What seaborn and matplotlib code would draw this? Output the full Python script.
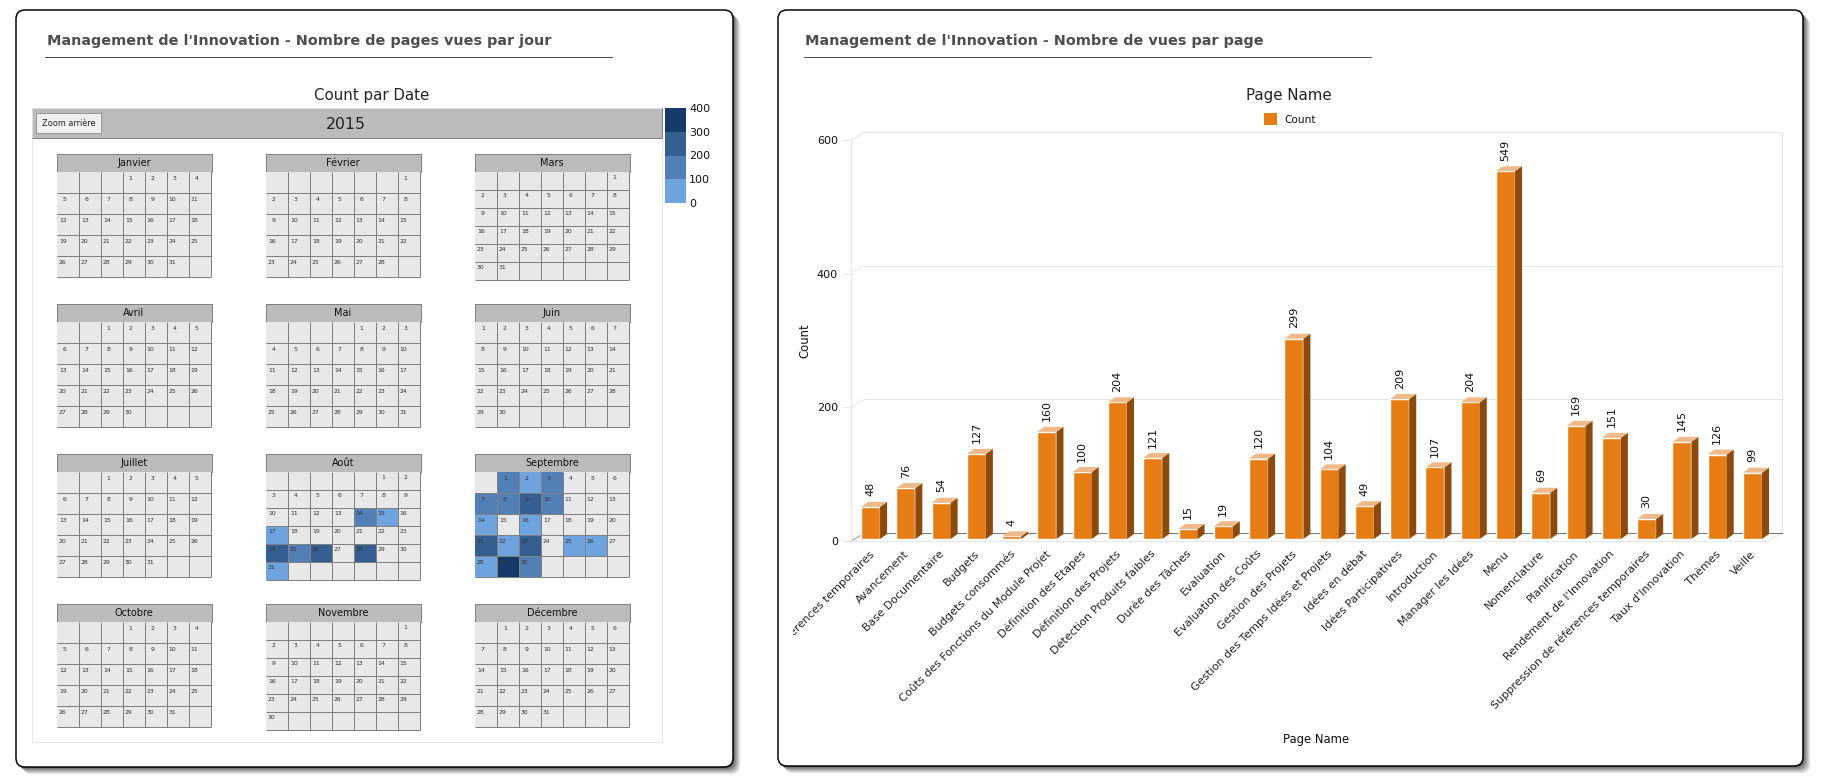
import matplotlib
matplotlib.use("Agg")
import matplotlib.pyplot as plt
import matplotlib.transforms as mtrans
from matplotlib.colors import BoundaryNorm, ListedColormap
from matplotlib.patches import FancyBboxPatch, Patch, Rectangle
import numpy as np
import pandas as pd
import seaborn as sns

W, H = 1822, 784

# page views per page
page_names = ["Ajout de références temporaires", "Avancement", "Base Documentaire", "Budgets",
              "Budgets consommés", "Coûts des Fonctions du Module Projet", "Définition des Etapes",
              "Définition des Projets", "Détection Produits faibles", "Durée des Tâches", "Evaluation",
              "Evaluation des Coûts", "Gestion des Projets", "Gestion des Temps Idées et Projets",
              "Idées en débat", "Idées Participatives", "Introduction", "Manager les Idées", "Menu",
              "Nomenclature", "Planification", "Rendement de l'Innovation",
              "Suppression de références temporaires", "Taux d'Innovation", "Thèmes", "Veille"]
page_counts = [48, 76, 54, 127, 4, 160, 100, 204, 121, 15, 19, 120, 299, 104, 49, 209, 107, 204, 549,
               69, 169, 151, 30, 145, 126, 99]

# calendar, weeks start on monday
month_names = ["Janvier", "Février", "Mars", "Avril", "Mai", "Juin", "Juillet", "Août", "Septembre",
               "Octobre", "Novembre", "Décembre"]
month_offsets = [3, 6, 6, 2, 4, 0, 2, 5, 1, 3, 6, 1]
month_lengths = [31, 28, 31, 30, 31, 30, 31, 31, 30, 31, 30, 31]

# only the colour bin can be read, so these are mid-bin estimates
aout_days = [14, 15, 17, 24, 25, 26, 28, 31]
aout_counts = [150, 60, 60, 250, 150, 250, 250, 60]
sept_days = [1, 2, 3, 7, 8, 9, 10, 14, 16, 21, 22, 23, 25, 26, 28, 29, 30]
sept_counts = [150, 60, 150, 150, 150, 250, 150, 60, 60, 250, 60, 250, 60, 60, 60, 350, 150]
day_counts = {7: dict(zip(aout_days, aout_counts)), 8: dict(zip(sept_days, sept_counts))}

bin_colors = ["#e8e8e8", "#6fa3de", "#5280b6", "#365f91", "#163b6b"]
bin_edges = [-100, 0, 100, 200, 300, 400]
scale_labels = ["400", "300", "200", "100", "0"]

ORANGE, ORANGE_SIDE, ORANGE_TOP = "#e57c14", "#8c4a0c", "#f0b98a"
GRID = "#e6e6e6"
PX = 0.72  # one pixel in points at dpi 100

sns.set_theme(style="white")
plt.rcParams["font.family"] = "DejaVu Sans"

fig = plt.figure(figsize=(W / 100, H / 100), dpi=100, facecolor="white")


def px_axes(x0, y0, x1, y1, **kw):
    return fig.add_axes([x0 / W, 1 - y1 / H, (x1 - x0) / W, (y1 - y0) / H], **kw)


# page furniture is laid out in pixels
bg = px_axes(0, 0, W, H, zorder=0)
bg.set_xlim(0, W)
bg.set_ylim(H, 0)
bg.axis("off")


def panel(x0, y0, x1, y1):
    for i in range(8, 0, -1):
        g = 0.3 + 0.085 * i
        bg.add_patch(FancyBboxPatch((x0 + i, y0 + i), x1 - x0, y1 - y0, boxstyle="round,pad=0,rounding_size=9",
                                    fc=(g, g, g), ec="none"))
    bg.add_patch(FancyBboxPatch((x0, y0), x1 - x0, y1 - y0, boxstyle="round,pad=0,rounding_size=9",
                                fc="white", ec="black", lw=1.5 * PX))


panel(16, 10, 733, 767)
panel(778, 10, 1803, 766)

bg.text(47, 41, "Management de l'Innovation - Nombre de pages vues par jour", fontsize=10.4,
        fontweight="bold", color="#4d4d4d", va="center")
bg.plot([45, 612], [57, 57], color="#4d4d4d", lw=PX)
bg.text(805, 41, "Management de l'Innovation - Nombre de vues par page", fontsize=10.4,
        fontweight="bold", color="#4d4d4d", va="center")
bg.plot([804, 1371], [57, 57], color="#4d4d4d", lw=PX)

# calendar frame
bg.text(372, 95, "Count par Date", fontsize=10.8, color="#222222", ha="center", va="center")
bg.add_patch(Rectangle((32, 138), 630, 604, fc="white", ec=GRID, lw=PX))
bg.add_patch(Rectangle((32, 108), 630, 30, fc="#bbbbbb", ec="#e0e0e0", lw=PX))
bg.plot([32, 662, 662], [138, 138, 108], color="#808080", lw=PX)
bg.add_patch(Rectangle((36, 113), 65, 20, fc="#f0f0f0", ec="#999999", lw=PX))
bg.text(68.5, 123, "Zoom arrière", fontsize=5.9, color="#222222", ha="center", va="center")
bg.text(346, 124, "2015", fontsize=11.3, color="#222222", ha="center", va="center")

cal_cmap = ListedColormap(bin_colors)
cal_norm = BoundaryNorm(bin_edges, cal_cmap.N)

col_x = [57, 266, 475]
row_y = [154, 304, 454, 604]
for m, name in enumerate(month_names):
    x0, y0 = col_x[m % 3], row_y[m // 3]
    bg.add_patch(Rectangle((x0, y0), 154.5, 18, fc="#bbbbbb", ec="#808080", lw=PX))
    bg.text(x0 + 77, y0 + 9, name, fontsize=7, color="#111111", ha="center", va="center")

    offset, length = month_offsets[m], month_lengths[m]
    n_rows = int(np.ceil((offset + length) / 7))
    grid = np.full((n_rows, 7), -50.0)
    counts = day_counts.get(m, {})
    for day in range(1, length + 1):
        r, c = divmod(offset + day - 1, 7)
        if day in counts:
            grid[r, c] = counts[day]
    height = 105 if n_rows == 5 else 108
    ax = px_axes(x0, y0 + 18, x0 + 153.5, y0 + 18 + height, zorder=2)
    sns.heatmap(grid, ax=ax, cmap=cal_cmap, norm=cal_norm, cbar=False, linewidths=0,
                xticklabels=False, yticklabels=False, square=False)
    ax.hlines(range(1, n_rows + 1), 0, 7, color="#808080", lw=PX, clip_on=False)
    ax.vlines(range(1, 8), 0, n_rows, color="#808080", lw=PX, clip_on=False)
    for day in range(1, length + 1):
        r, c = divmod(offset + day - 1, 7)
        ax.text(c + (0.36 if day < 10 else 0.27), r + (0.29 if n_rows == 5 else 0.32), str(day), fontsize=4.4,
                color="#333333", ha="center", va="center")

# colour scale
scale_ax = px_axes(665, 108, 686, 203, zorder=2)
sns.heatmap(np.array([[350], [250], [150], [50]]), ax=scale_ax, cmap=cal_cmap, norm=cal_norm, cbar=False,
            xticklabels=False, yticklabels=False)
for i, lab in enumerate(scale_labels):
    scale_ax.text(1.14, i + 0.04, lab, fontsize=8, color="#111111", ha="left", va="center", clip_on=False)

# right chart: back wall, front ruler and the bars each get their own axes
wall = px_axes(865, 132, 1782, 533, zorder=1)
wall.set_xlim(0, 1)
wall.set_ylim(0, 600)
wall.set_yticks([200, 400, 600])
wall.set_xticks([])
wall.tick_params(left=False, labelleft=False)
wall.grid(axis="y", color=GRID, lw=PX)
for side in wall.spines.values():
    side.set_color(GRID)
    side.set_linewidth(PX)
wall.spines["left"].set_visible(False)
wall.spines["bottom"].set_color("#777777")

front = px_axes(851, 140, 1768, 541, zorder=1)
front.patch.set_alpha(0)
front.set_xlim(0, 1)
front.set_ylim(0, 600)
front.set_xticks([])
front.set_yticks([0, 200, 400, 600])
front.tick_params(axis="y", length=5.8, width=PX, color=GRID, labelsize=8, labelcolor="#111111", pad=3.6, left=True)
front.set_ylabel("Count", fontsize=8.4, color="#111111", labelpad=4)
sns.despine(ax=front, right=True, top=True)
front.spines["left"].set_color(GRID)
front.spines["left"].set_linewidth(PX)
front.spines["bottom"].set_color(GRID)
front.spines["bottom"].set_linewidth(PX)

# floor corners
bg.plot([851, 865], [541, 533], color="#999999", lw=PX)
bg.plot([1768, 1782], [541, 533], color=GRID, lw=PX)
for y_front, y_back in [(140, 132), (273, 265), (407, 399)]:
    bg.plot([851, 865], [y_front, y_back], color=GRID, lw=PX)

df = pd.DataFrame({"Page Name": page_names, "Count": page_counts})
bars = px_axes(852.9, 137, 1770.1, 539, zorder=3)
bars.patch.set_alpha(0)
sns.barplot(data=df, x="Page Name", y="Count", ax=bars, color=ORANGE, saturation=1, width=0.54)
bars.set_xlim(-0.5, 25.5)
bars.set_ylim(0, 600)
bars.set_ylabel("")
bars.set_xlabel("")
bars.set_yticks([])
sns.despine(ax=bars, left=True, bottom=True)

# extruded side and top of each bar, 7 px across and 5 px up
dx = 7 / (917.2 / 26)
dy = 5 / (402 / 600)
for bar in bars.containers[0]:
    x0, w, h = bar.get_x(), bar.get_width(), bar.get_height()
    x1 = x0 + w
    bars.fill([x1, x1 + dx, x1 + dx, x1], [0, dy, h + dy, h], color=ORANGE_SIDE, lw=0, zorder=3)
    bars.fill([x0, x1, x1 + dx, x0 + dx], [h, h, h + dy, h + dy], color=ORANGE_TOP, lw=0, zorder=3)

value_labels = bars.bar_label(bars.containers[0], rotation=90, padding=7.5, fontsize=8, color="#111111", zorder=5)
nudge = mtrans.ScaledTranslation(2 / 100, 0, fig.dpi_scale_trans)
for lab in value_labels:
    lab.set_transform(lab.get_transform() + nudge)

bars.tick_params(axis="x", length=0, pad=7, labelsize=8, labelcolor="#222222")
shift = mtrans.ScaledTranslation(-2 / 100, 0, fig.dpi_scale_trans)
for lab in bars.get_xticklabels():
    lab.set_rotation(45)
    lab.set_ha("right")
    lab.set_rotation_mode("anchor")
    lab.set_transform(lab.get_transform() + shift)
# the longest first label is cut by the chart's left edge
first = bars.get_xticklabels()[0]
first.set_clip_on(True)
first.set_clip_box(mtrans.Bbox([[793, 0], [W, H]]))

bg.text(1289, 95, "Page Name", fontsize=10.8, color="#222222", ha="center", va="center")
bg.text(1316, 740, "Page Name", fontsize=8.4, color="#111111", ha="center", va="center")
front.legend(handles=[Patch(fc=ORANGE, ec="none", label="Count")], loc="center", bbox_to_anchor=(1290 / W, 1 - 119 / H),
             bbox_transform=fig.transFigure, frameon=False, fontsize=7.6, handlelength=1.3, handleheight=1.3,
             handletextpad=0.7, labelcolor="#111111")

fig.savefig("out.png", dpi=100)
